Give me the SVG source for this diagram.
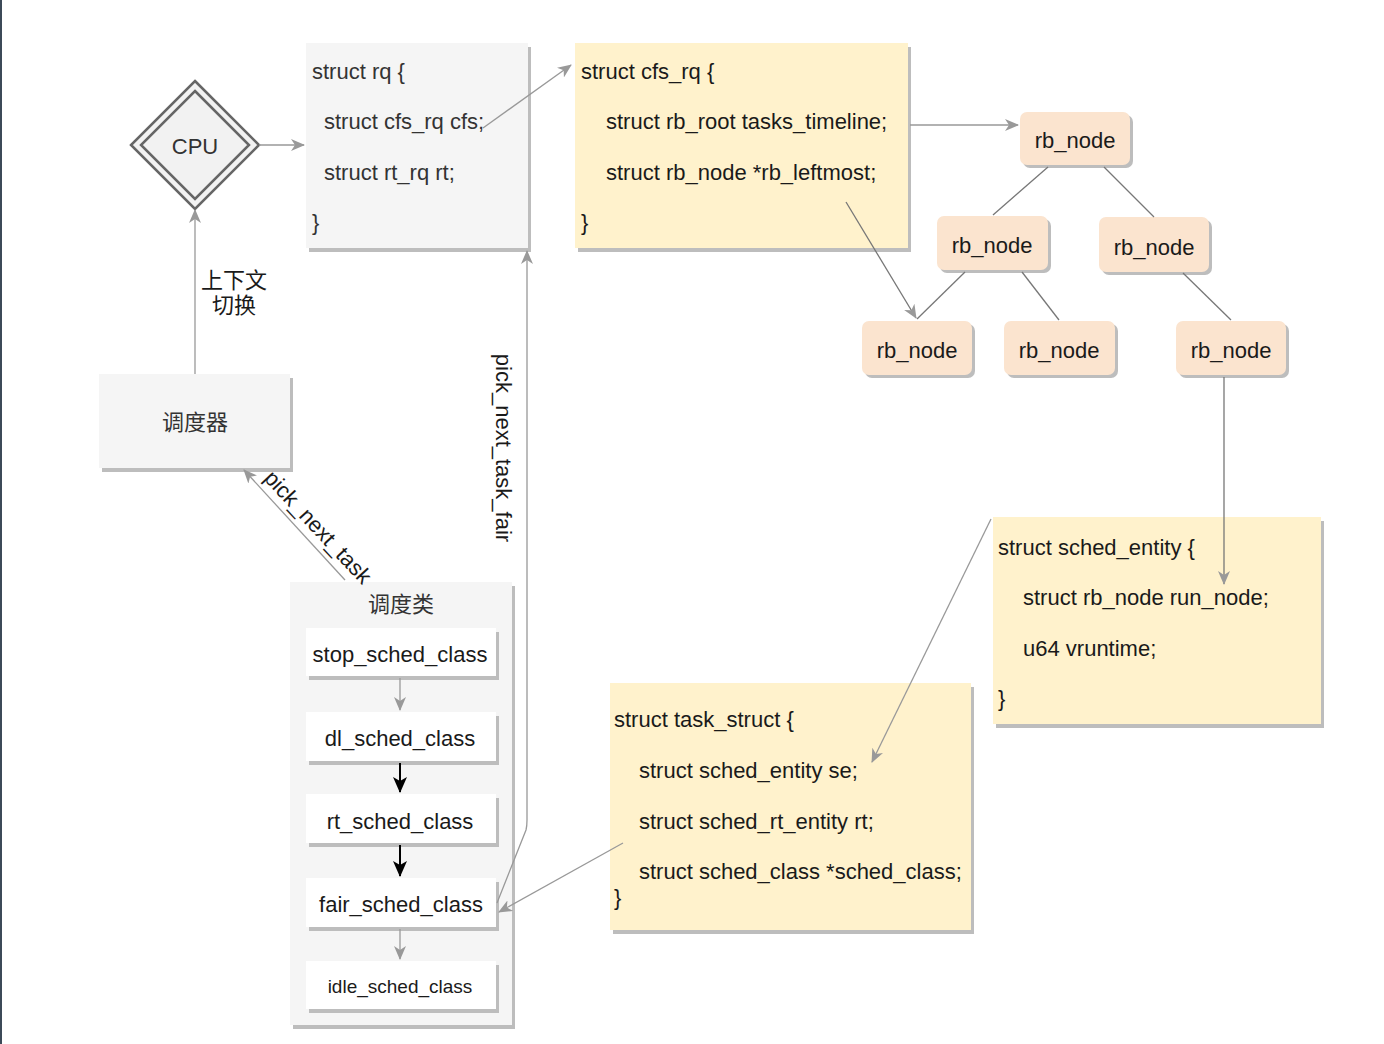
<svg xmlns="http://www.w3.org/2000/svg" width="1384" height="1044" viewBox="0 0 1384 1044">
<style>
text{font-family:"Liberation Sans","Noto Sans CJK SC",Arial,sans-serif;font-size:22px;fill:#1a1a1a;dominant-baseline:central}
.g{fill:#333}
.c{text-anchor:middle}
.sh{fill:#bdbdbd}
.gray{fill:#f5f5f5}
.yel{fill:#fff2cc}
.rb{fill:#fbe4cf}
.ln{stroke:#999;stroke-width:1.3;fill:none}
.tl{stroke:#777;stroke-width:1.3;fill:none}
.blk{stroke:#000;stroke-width:2;fill:none}
</style>
<defs>
<marker id="ag" markerUnits="userSpaceOnUse" markerWidth="14" markerHeight="12" viewBox="0 0 14 12" refX="13" refY="6" orient="auto">
<path d="M0,0 L14,6 L0,12 L4,6 z" fill="#999"/>
</marker>
<marker id="ab" markerUnits="userSpaceOnUse" markerWidth="16" markerHeight="14" viewBox="0 0 16 14" refX="15" refY="7" orient="auto">
<path d="M0,0 L16,7 L0,14 L4,7 z" fill="#000"/>
</marker>
</defs>
<rect x="0" y="0" width="1384" height="1044" fill="#fff"/>
<rect x="0" y="0" width="2" height="1044" fill="#3c4a58"/>

<g id="cpu">
<polygon points="195,81 259,145 195,209 131,145" fill="#f2f2f2" stroke="#666" stroke-width="2.5"/>
<polygon points="195,91 249,145 195,199 141,145" fill="none" stroke="#666" stroke-width="2.5"/>
<text class="c g" x="195" y="146">CPU</text>
</g>

<g id="rq">
<rect class="sh" x="309" y="47" width="222" height="205"/>
<rect class="gray" x="306" y="43" width="222" height="205"/>
<text class="g" x="312" y="71">struct rq {</text>
<text class="g" x="324" y="121">struct cfs_rq cfs;</text>
<text class="g" x="324" y="172">struct rt_rq rt;</text>
<text class="g" x="312" y="222">}</text>
</g>

<g id="cfs_rq">
<rect class="sh" x="578" y="47" width="333" height="205"/>
<rect class="yel" x="575" y="43" width="333" height="205"/>
<text x="581" y="71">struct cfs_rq {</text>
<text x="606" y="121">struct rb_root tasks_timeline;</text>
<text x="606" y="172">struct rb_node *rb_leftmost;</text>
<text x="581" y="222">}</text>
</g>

<g id="rb_root">
<rect class="sh" x="1023" y="115" width="110" height="53" rx="7"/>
<rect class="rb" x="1020" y="112" width="110" height="53" rx="7"/>
<text class="c" x="1075" y="140">rb_node</text>
</g>
<g id="rb_l">
<rect class="sh" x="940" y="219" width="111" height="54" rx="7"/>
<rect class="rb" x="937" y="216" width="111" height="54" rx="7"/>
<text class="c" x="992" y="245">rb_node</text>
</g>
<g id="rb_r">
<rect class="sh" x="1102" y="220" width="110" height="55" rx="7"/>
<rect class="rb" x="1099" y="217" width="110" height="55" rx="7"/>
<text class="c" x="1154" y="247">rb_node</text>
</g>
<g id="rb_ll">
<rect class="sh" x="865" y="324" width="110" height="54" rx="7"/>
<rect class="rb" x="862" y="321" width="110" height="54" rx="7"/>
<text class="c" x="917" y="350">rb_node</text>
</g>
<g id="rb_lr">
<rect class="sh" x="1007" y="324" width="111" height="54" rx="7"/>
<rect class="rb" x="1004" y="321" width="111" height="54" rx="7"/>
<text class="c" x="1059" y="350">rb_node</text>
</g>
<g id="rb_rr">
<rect class="sh" x="1179" y="324" width="110" height="54" rx="7"/>
<rect class="rb" x="1176" y="321" width="110" height="54" rx="7"/>
<text class="c" x="1231" y="350">rb_node</text>
</g>

<g id="sched_entity">
<rect class="sh" x="996" y="521" width="328" height="207"/>
<rect class="yel" x="993" y="517" width="328" height="207"/>
<text x="998" y="547">struct sched_entity {</text>
<text x="1023" y="597">struct rb_node run_node;</text>
<text x="1023" y="648">u64 vruntime;</text>
<text x="998" y="698">}</text>
</g>

<g id="task_struct">
<rect class="sh" x="613" y="687" width="361" height="247"/>
<rect class="yel" x="610" y="683" width="361" height="247"/>
<text x="614" y="719">struct task_struct {</text>
<text x="639" y="770">struct sched_entity se;</text>
<text x="639" y="821">struct sched_rt_entity rt;</text>
<text x="639" y="871">struct sched_class *sched_class;</text>
<text x="614" y="897">}</text>
</g>

<g id="scheduler">
<rect class="sh" x="102" y="378" width="191" height="94"/>
<rect class="gray" x="99" y="374" width="191" height="94"/>
<text class="c g" x="195" y="422">调度器</text>
</g>

<g id="sched_classes">
<rect class="sh" x="293" y="586" width="222" height="443"/>
<rect class="gray" x="290" y="582" width="222" height="443"/>
<text class="c g" x="401" y="604">调度类</text>
</g>
<g id="stop_sched_class">
<rect class="sh" x="309" y="632" width="190" height="48"/>
<rect x="306" y="628" width="190" height="48" fill="#fff"/>
<text class="c" x="400" y="654">stop_sched_class</text>
</g>
<g id="dl_sched_class">
<rect class="sh" x="309" y="716" width="190" height="49"/>
<rect x="306" y="712" width="190" height="49" fill="#fff"/>
<text class="c" x="400" y="738">dl_sched_class</text>
</g>
<g id="rt_sched_class">
<rect class="sh" x="309" y="798" width="190" height="49"/>
<rect x="306" y="794" width="190" height="49" fill="#fff"/>
<text class="c" x="400" y="821">rt_sched_class</text>
</g>
<g id="fair_sched_class">
<rect class="sh" x="309" y="882" width="190" height="49"/>
<rect x="306" y="878" width="190" height="49" fill="#fff"/>
<text class="c" x="401" y="904">fair_sched_class</text>
</g>
<g id="idle_sched_class">
<rect class="sh" x="309" y="965" width="190" height="48"/>
<rect x="306" y="961" width="190" height="48" fill="#fff"/>
<text class="c" x="400" y="986" style="font-size:19px">idle_sched_class</text>
</g>

<g id="connectors">
<line class="ln" x1="259" y1="145" x2="304" y2="145" marker-end="url(#ag)"/>
<line class="ln" x1="195" y1="374" x2="195" y2="210" marker-end="url(#ag)"/>
<line class="ln" x1="483" y1="128" x2="571" y2="65" marker-end="url(#ag)"/>
<line class="ln" x1="910" y1="125" x2="1018" y2="125" marker-end="url(#ag)"/>
<line class="tl" x1="1048" y1="167" x2="993" y2="215"/>
<line class="tl" x1="1104" y1="167" x2="1154" y2="217"/>
<line class="tl" x1="965" y1="272" x2="917" y2="319"/>
<line class="tl" x1="1022" y1="272" x2="1059" y2="320"/>
<line class="tl" x1="1183" y1="273" x2="1231" y2="320"/>
<line class="tl" x1="846" y1="202" x2="916" y2="318" marker-end="url(#ag)"/>
<line class="tl" x1="1224" y1="377" x2="1224" y2="584" marker-end="url(#ag)"/>
<line class="ln" x1="991" y1="519" x2="872" y2="762" marker-end="url(#ag)"/>
<line class="ln" x1="623" y1="843" x2="499" y2="912" marker-end="url(#ag)"/>
<line class="ln" x1="345" y1="580" x2="244" y2="470" marker-end="url(#ag)"/>
<path class="ln" d="M497,903 L526,830 Q527,826 527,820 L527,251" marker-end="url(#ag)"/>
<line class="ln" x1="400" y1="678" x2="400" y2="710" marker-end="url(#ag)"/>
<line class="blk" x1="400" y1="763" x2="400" y2="792" marker-end="url(#ab)"/>
<line class="blk" x1="400" y1="845" x2="400" y2="876" marker-end="url(#ab)"/>
<line class="ln" x1="400" y1="929" x2="400" y2="959" marker-end="url(#ag)"/>
<text class="c" x="234" y="280">上下文</text>
<text class="c" x="234" y="305">切换</text>
<text class="c" x="318" y="527" transform="rotate(47 318 527)">pick_next_task</text>
<text class="c" x="503" y="448" transform="rotate(90 503 448)">pick_next_task_fair</text>
</g>
</svg>
